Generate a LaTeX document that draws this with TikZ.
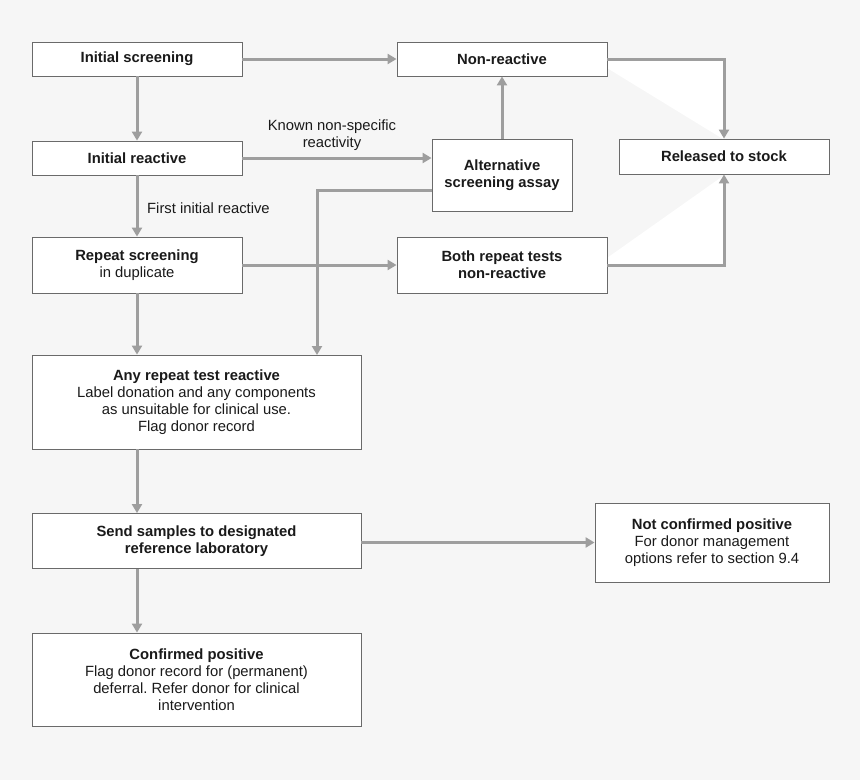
\documentclass[tikz,border=0pt]{standalone}
\usepackage{fontspec}
\setmainfont{Liberation Sans}
\usetikzlibrary{arrows.meta}
\definecolor{bg}{HTML}{F6F6F6}
\definecolor{linegray}{HTML}{9E9E9E}
\definecolor{boxgray}{HTML}{6A6A6A}
\definecolor{txt}{HTML}{1A1A1A}
\frenchspacing
\begin{document}
\begin{tikzpicture}[x=1pt,y=-1pt,
  box/.style={draw=boxgray, fill=white, line width=0.9pt, inner sep=0pt, align=center,
    text=txt, font=\fontsize{14.8}{17}\selectfont},
  conn/.style={draw=linegray, line width=3pt, -{Triangle[length=9pt,width=10pt]}},
  lbl/.style={text=txt, align=center, inner sep=0pt, font=\fontsize{14.8}{17}\selectfont}]
\fill[bg] (0,0) rectangle (860,780);
\useasboundingbox (0,0) rectangle (860,780);
% faint white wedges
\fill[white] (607,59) -- (723,59) -- (723,139) -- (607,68) -- cycle;
\fill[white] (607,266) -- (723,266) -- (723,176) -- (607,258) -- cycle;
% nodes
\node[box, minimum width=210pt, minimum height=34pt] (is) at (137,59) {\textbf{Initial screening}};
\node[box, minimum width=210pt, minimum height=34pt] (nr) at (502,59) {\textbf{Non-reactive}};
\node[box, minimum width=210pt, minimum height=34pt] (ir) at (137,158) {\textbf{Initial reactive}};
\node[box, minimum width=140pt, minimum height=72pt] (alt) at (502,175) {\textbf{Alternative}\\\textbf{screening assay}};
\node[box, minimum width=210pt, minimum height=35pt] (rel) at (724,156.5) {\textbf{Released to stock}};
\node[box, minimum width=210pt, minimum height=56pt] (rep) at (137,265) {\textbf{Repeat screening}\\in duplicate};
\node[box, minimum width=210pt, minimum height=56pt] (both) at (502,265) {\textbf{Both repeat tests}\\\textbf{non-reactive}};
\node[box, minimum width=329pt, minimum height=94pt] (any) at (196.5,402) {\textbf{Any repeat test reactive}\\Label donation and any components\\as unsuitable for clinical use.\\Flag donor record};
\node[box, minimum width=329pt, minimum height=55pt] (send) at (196.5,541) {\textbf{Send samples to designated}\\\textbf{reference laboratory}};
\node[box, minimum width=234pt, minimum height=79pt] (nc) at (712,542.5) {\textbf{Not confirmed positive}\\For donor management\\options refer to section 9.4};
\node[box, minimum width=329pt, minimum height=93pt] (cp) at (196.5,679.5) {\textbf{Confirmed positive}\\Flag donor record for (permanent)\\deferral. Refer donor for clinical\\intervention};
% labels
\node[lbl] (lknown) at (332,135) {Known non-specific\\reactivity};
\node[lbl, anchor=west] (lfirst) at (147,208) {First initial reactive};
% helper coordinates
\coordinate (altout) at (432,190);
\coordinate (anyin) at (317,355);
% connectors
\draw[conn] (is.east) -- (nr.west);
\draw[conn] (is.south) -- (ir.north);
\draw[conn] (ir.east) -- (ir.east -| alt.west);
\draw[conn] (alt.north) -- (nr.south);
\draw[conn] (altout) -| (anyin);
\draw[conn] (ir.south) -- (rep.north);
\draw[conn] (rep.east) -- (both.west);
\draw[conn] (nr.east) -| (rel.north);
\draw[conn] (both.east) -| (rel.south);
\draw[conn] (rep.south) -- (rep.south |- any.north);
\draw[conn] (any.south -| rep.south) -- (send.north -| rep.south);
\draw[conn] (send.east |- nc.west) -- (nc.west);
\draw[conn] (send.south -| rep.south) -- (cp.north -| rep.south);
\end{tikzpicture}
\end{document}
